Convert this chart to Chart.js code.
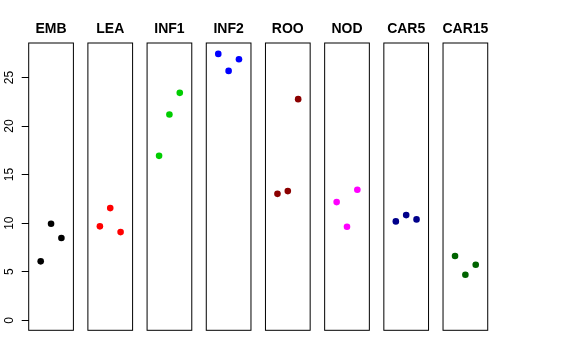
<!DOCTYPE html>
<html><head><meta charset="utf-8">
<script src="https://cdn.jsdelivr.net/npm/chart.js@4/dist/chart.umd.min.js"></script>
<style>
html,body{margin:0;padding:0;background:#fff;}
#wrap{position:relative;width:576px;height:360px;}
#wrap canvas{position:absolute;left:0;top:0;}
</style></head>
<body><div id="wrap"></div>
<script>
const categories = ['EMB','LEA','INF1','INF2','ROO','NOD','CAR5','CAR15'];
const positions = [1, 2, 3];
const emb   = [6.07, 9.94, 8.47];
const lea   = [9.67, 11.55, 9.08];
const inf1  = [16.93, 21.19, 23.42];
const inf2  = [27.43, 25.68, 26.88];
const roo   = [13.02, 13.30, 22.77];
const nod   = [12.17, 9.63, 13.44];
const car5  = [10.18, 10.83, 10.39];
const car15 = [6.62, 4.69, 5.72];
const yTicks = [0, 5, 10, 15, 20, 25];
const seriesValues = [emb, lea, inf1, inf2, roo, nod, car5, car15];
const colors = ['#000000','#FF0000','#00CD00','#0000FF','#8B0000','#FF00FF','#00008B','#006400'];

const W = 576, H = 360;
const firstLeft = 28.7, step = 59.19, panelW = 44.7;
const plotTop = 43, plotBottom = 330.3;
const FONT = '"Liberation Sans", Arial, Helvetica, sans-serif';

const boxPlugin = {
  id: 'panelBox',
  afterDraw(chart, args, opts) {
    const a = chart.chartArea, ctx = chart.ctx;
    ctx.save();
    ctx.strokeStyle = '#000';
    ctx.lineWidth = 1;
    ctx.strokeRect(a.left, a.top, a.right - a.left, a.bottom - a.top);
    ctx.fillStyle = '#000';
    ctx.font = 'bold 14px ' + FONT;
    ctx.textAlign = 'center';
    ctx.textBaseline = 'middle';
    ctx.fillText(opts.text, (a.left + a.right) / 2, 29.5);
    ctx.restore();
  }
};

const wrap = document.getElementById('wrap');
categories.forEach((cat, i) => {
  const cv = document.createElement('canvas');
  cv.width = W; cv.height = H;
  cv.style.width = W + 'px'; cv.style.height = H + 'px';
  wrap.appendChild(cv);
  const left = firstLeft + i * step;
  const right = left + panelW;
  const showY = i === 0;
  new Chart(cv, {
    type: 'scatter',
    data: {
      datasets: [{
        data: positions.map((p, k) => ({x: p, y: seriesValues[i][k]})),
        backgroundColor: colors[i],
        borderWidth: 0,
        pointRadius: 3.3,
        pointHoverRadius: 3.3
      }]
    },
    options: {
      responsive: false,
      devicePixelRatio: 1,
      animation: false,
      events: [],
      layout: { padding: { left: showY ? 0 : left, right: W - right, top: plotTop, bottom: H - plotBottom } },
      plugins: { legend: {display: false}, tooltip: {enabled: false}, title: {display: false}, panelBox: { text: cat } },
      scales: {
        x: { type: 'linear', min: -0.16, max: 4.16, display: false },
        y: {
          type: 'linear', min: -1.03, max: 28.55,
          display: showY,
          afterBuildTicks: s => { s.ticks = yTicks.map(v => ({value: v})); },
          afterFit: s => { s.width = showY ? firstLeft : 0; },
          border: { display: false },
          grid: { drawOnChartArea: false, drawTicks: true, tickLength: 7, color: '#000', lineWidth: 1 },
          ticks: { color: '#000', font: { family: FONT, size: 12 }, minRotation: 90, maxRotation: 90, crossAlign: 'center', padding: 5, callback: v => String(v) }
        }
      }
    },
    plugins: [boxPlugin]
  });
});
</script></body></html>
